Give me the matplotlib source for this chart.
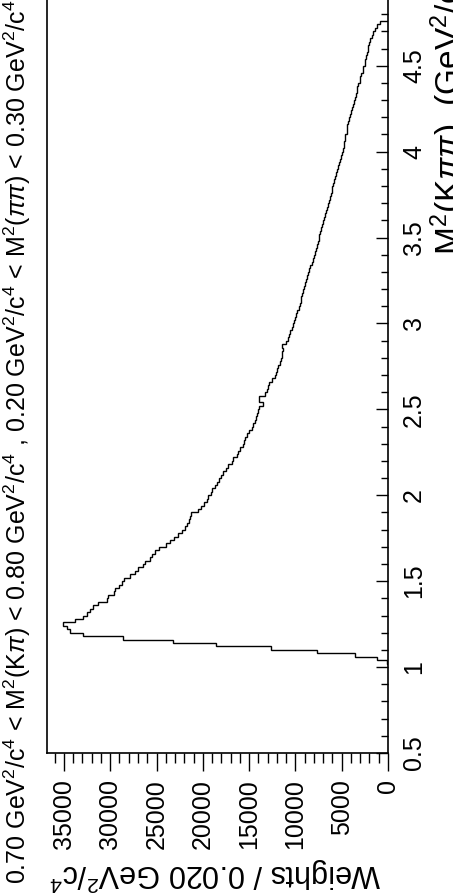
import matplotlib
matplotlib.use("Agg")
import matplotlib.pyplot as plt
import numpy as np

plt.rcParams["font.family"] = ["Liberation Sans", "DejaVu Sans"]
plt.rcParams["mathtext.fontset"] = "custom"
plt.rcParams["mathtext.rm"] = "Liberation Sans"
plt.rcParams["mathtext.it"] = "Liberation Sans:italic"
plt.rcParams["mathtext.bf"] = "Liberation Sans:bold"

# histogram: M^2(K pi pi) bins of 0.02 GeV^2/c^4 starting at 1.00
bin_start = 1.00
bin_width = 0.02
weights = [
    0, 150, 1220, 3560, 7630, 12640, 18580, 23260, 28580, 32900,
    34340, 34700, 35060, 33800, 32900, 32540, 32180, 31820, 31280, 30380,
    30250, 29600, 29500, 29000, 28700, 28500, 27900, 27300, 27000, 26500,
    26200, 25700, 25500, 25200, 24700, 24000, 23500, 23100, 22700, 22300,
    21900, 21700, 21500, 21400, 21300, 20500, 20200, 19900, 19600, 19400,
    19100, 19000, 18700, 18500, 18300, 18000, 17800, 17500, 17300, 16900,
    16700, 16300, 16200, 16000, 15700, 15600, 15400, 15200, 15000, 14700,
    14550, 14400, 14300, 14150, 14000, 13900, 13550, 13900, 13900, 13300,
    13100, 12950, 12800, 12500, 12250, 12100, 11950, 11850, 11700, 11600,
    11500, 11400, 11300, 11450, 11000, 10850, 10650, 10550, 10400, 10300,
    10150, 10050, 9900, 9800, 9650, 9550, 9450, 9350, 9250, 9150,
    9050, 8950, 8850, 8750, 8600, 8500, 8400, 8250, 8100, 7950,
    7850, 7800, 7700, 7600, 7500, 7400, 7300, 7250, 7150, 7000,
    6950, 6850, 6700, 6600, 6500, 6400, 6300, 6150, 6050, 6000,
    5900, 5800, 5700, 5600, 5500, 5400, 5300, 5200, 5050, 4950,
    4850, 4800, 4750, 4650, 4600, 4450, 4400, 4450, 4300, 4250,
    4100, 4000, 3900, 3800, 3700, 3550, 3500, 3400, 3350, 3200,
    3050, 3000, 2900, 2750, 2650, 2500, 2450, 2400, 2300, 2200,
    2150, 2000, 1900, 1750, 1600, 1400, 1200, 850,
]

w_ticks = [0, 5000, 10000, 15000, 20000, 25000, 30000, 35000]
w_tick_labels = ["0", "5000", "10000", "15000", "20000", "25000", "30000", "35000"]
m_ticks = [0.5, 1, 1.5, 2, 2.5, 3, 3.5, 4, 4.5]
m_tick_labels = ["0.5", "1", "1.5", "2", "2.5", "3", "3.5", "4", "4.5"]

title = (r"0.70 GeV$^{2}$/c$^{4}$ < M$^{2}$(K$\pi$) < 0.80 GeV$^{2}$/c$^{4}$ , "
         r"0.20 GeV$^{2}$/c$^{4}$ < M$^{2}$($\pi\pi$) < 0.30 GeV$^{2}$/c$^{4}$")
w_label = r"Weights / 0.020 GeV$^{2}$/c$^{4}$"
m_label = r"M$^{2}$(K$\pi\pi$)  (GeV$^{2}$/c$^{4}$)"

W, H = 453, 894
fig = plt.figure(figsize=(W / 100, H / 100), dpi=100)
ax = fig.add_axes([47 / W, (H - 753) / H, (388 - 47) / W, 756 / H])

edges = bin_start + bin_width * np.arange(len(weights) + 1)
ax.stairs(weights, edges, orientation="horizontal", baseline=0,
          color="black", linewidth=1.0)

ax.set_xlim(36830, 0)
ax.set_ylim(0.5, 0.5 + 756 / 172.8)

ax.set_xticks(w_ticks)
ax.set_xticklabels(w_tick_labels)
ax.set_xticks(np.arange(1000, 37000, 1000), minor=True)
ax.yaxis.tick_right()
ax.set_yticks(m_ticks)
ax.set_yticklabels(m_tick_labels)
ax.set_yticks(np.arange(0.6, 4.9, 0.1), minor=True)

ax.tick_params(axis="x", which="major", direction="out", length=13, width=1.0,
               labelsize=18, labelrotation=90, pad=6)
ax.tick_params(axis="x", which="minor", direction="out", length=7, width=1.0)
ax.tick_params(axis="y", which="major", direction="in", length=9, width=1.0,
               labelsize=18, labelrotation=90, pad=10)
ax.tick_params(axis="y", which="minor", direction="in", length=5, width=1.0)
plt.setp(ax.get_yticklabels(), va="center")

for side in ["left", "right", "bottom"]:
    ax.spines[side].set_linewidth(1.2)
ax.spines["top"].set_visible(False)

fig.text(2 / W, (H - 884) / H, title, rotation=90, ha="left", va="bottom",
         fontsize=18)
fig.text(381 / W, 1 / H, w_label, rotation=180, ha="right", va="bottom",
         fontsize=22)
fig.text(428 / W, (H - 255) / H, m_label, rotation=90, ha="left", va="bottom",
         fontsize=24)

fig.savefig("out.png", dpi=100)
